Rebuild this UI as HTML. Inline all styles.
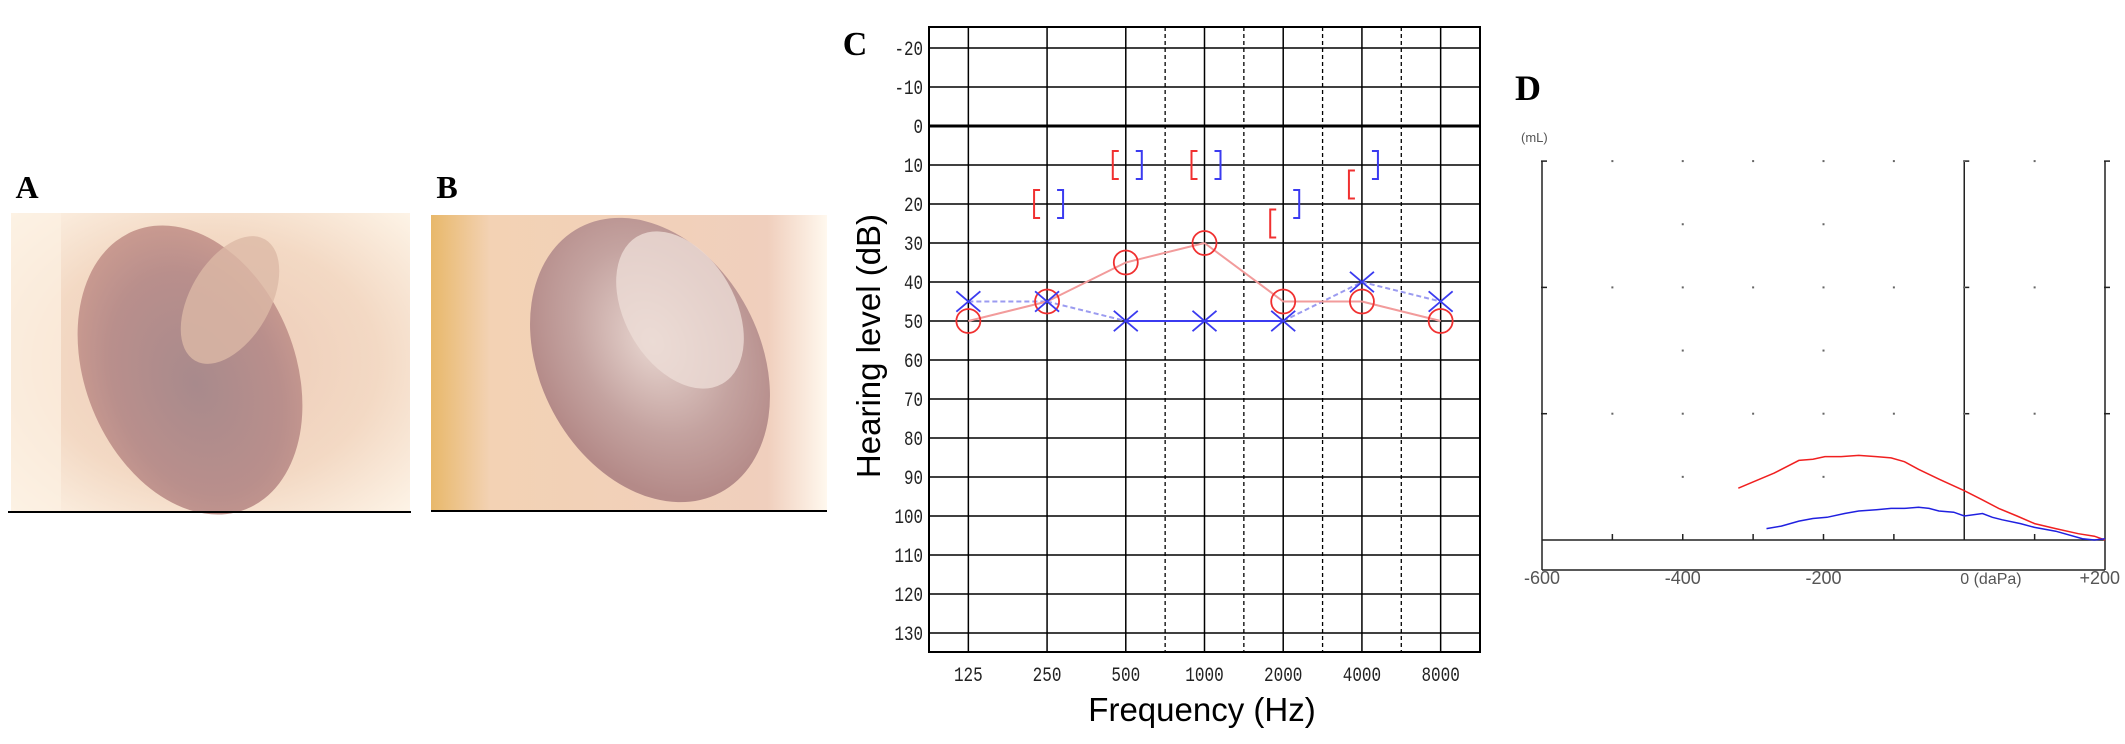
<!DOCTYPE html>
<html><head><meta charset="utf-8"><style>
html,body{margin:0;padding:0;background:#fff;}
svg{display:block;}
</style></head><body>
<svg id="fig" width="2125" height="744" viewBox="0 0 2125 744" xmlns="http://www.w3.org/2000/svg">
<defs>
<radialGradient id="bgA" cx="50%" cy="50%" r="70%"><stop offset="0" stop-color="#ecc9b6"/><stop offset="0.6" stop-color="#f3d9c4"/><stop offset="1" stop-color="#fdf3e6"/></radialGradient>
<radialGradient id="tmA" cx="50%" cy="55%" r="55%"><stop offset="0" stop-color="#a88a8c"/><stop offset="0.7" stop-color="#b98f8c"/><stop offset="1" stop-color="#c99a90"/></radialGradient>
<radialGradient id="tmB" cx="55%" cy="45%" r="55%"><stop offset="0" stop-color="#e8d6d0"/><stop offset="0.6" stop-color="#c4a3a0"/><stop offset="1" stop-color="#b48a88"/></radialGradient>
<linearGradient id="bgB" x1="0" y1="0" x2="1" y2="0"><stop offset="0" stop-color="#e8b86a"/><stop offset="0.15" stop-color="#f3d2b4"/><stop offset="0.85" stop-color="#f0cfbd"/><stop offset="1" stop-color="#fff8ee"/></linearGradient>
</defs>

<text x="27" y="198" font-family="Liberation Serif, serif" font-weight="bold" font-size="32" text-anchor="middle">A</text>
<g>
<rect x="11" y="213" width="399" height="299" fill="url(#bgA)"/>
<rect x="11" y="213" width="50" height="299" fill="#fcf1e2" opacity="0.7"/>
<ellipse cx="190" cy="370" rx="105" ry="150" transform="rotate(-22 190 370)" fill="url(#tmA)"/>
<ellipse cx="230" cy="300" rx="40" ry="70" transform="rotate(30 230 300)" fill="#dcb9a6" opacity="0.8"/>
<line x1="8" y1="512" x2="411" y2="512" stroke="#000" stroke-width="2"/>
</g>

<text x="447" y="198" font-family="Liberation Serif, serif" font-weight="bold" font-size="32" text-anchor="middle">B</text>
<g>
<rect x="431" y="215" width="396" height="295" fill="url(#bgB)"/>
<ellipse cx="650" cy="360" rx="110" ry="150" transform="rotate(-28 650 360)" fill="url(#tmB)"/>
<ellipse cx="680" cy="310" rx="55" ry="85" transform="rotate(-30 680 310)" fill="#ecdcd6" opacity="0.8"/>
<line x1="431" y1="511" x2="827" y2="511" stroke="#000" stroke-width="2"/>
</g>

<text x="855" y="55" font-family="Liberation Serif, serif" font-weight="bold" font-size="34" text-anchor="middle">C</text>
<g id="audiogram"></g>

<text x="1528" y="100" font-family="Liberation Serif, serif" font-weight="bold" font-size="36" text-anchor="middle">D</text>
<g id="tymp"></g>
</svg>
<script>
// ---------- Audiogram data ----------
const freqLabels = ["125","250","500","1000","2000","4000","8000"];
const dbTicks = [-20,-10,0,10,20,30,40,50,60,70,80,90,100,110,120,130];
const rightAC = [50,45,35,30,45,45,50];
const leftAC = [45,45,50,50,50,40,45];
const rightBCFreqIdx = [1,2,3,4,5];
const rightBC = [20,10,10,25,15];
const leftBCFreqIdx = [1,2,3,4,5];
const leftBC = [20,10,10,20,10];

// ---------- Tympanogram data ----------
const tympPressureTicks = [-600,-400,-200,0,200];
const tympPressureTickLabels = ["-600","-400","-200","0  (daPa)","+200"];
const rightTympP = [-321,-300,-270,-235,-215,-198,-175,-150,-125,-104,-85,-65,-35,0,25,49,75,100,130,162,185,200];
const rightTympV = [0.41,0.46,0.53,0.63,0.64,0.66,0.66,0.67,0.66,0.65,0.62,0.56,0.48,0.39,0.32,0.25,0.19,0.13,0.09,0.05,0.03,0.0];
const leftTympP = [-281,-260,-235,-215,-195,-170,-150,-125,-104,-85,-65,-50,-36,-15,0,26,40,54,80,100,130,168,185,200];
const leftTympV = [0.09,0.11,0.15,0.17,0.18,0.21,0.23,0.24,0.25,0.25,0.26,0.25,0.23,0.22,0.19,0.21,0.18,0.16,0.13,0.1,0.07,0.01,0.0,0.01];

const NS="http://www.w3.org/2000/svg";
function mk(parent,tag,attrs){const e=document.createElementNS(NS,tag);for(const k in attrs)e.setAttribute(k,attrs[k]);parent.appendChild(e);return e;}

const A={left:929,right:1480,top:27,bottom:652};
const colW=(A.right-A.left)/freqLabels.length;
function fx(i){return A.left+colW*(i+0.5);}
function dy(v){return 126+(v)*3.9;}
const ag=document.getElementById('audiogram');
dbTicks.forEach(function(v){
  const l=mk(ag,'line',{x1:A.left,x2:A.right,y1:dy(v),y2:dy(v),stroke:'#000','stroke-width':v===0?3:1.5});
  
  
  const s=String(v);
  const t=mk(ag,'text',{x:923,y:dy(v)+7,'text-anchor':'end','font-family':'Liberation Mono, monospace','font-size':20,fill:'#222',textLength:s.length*9.5,lengthAdjust:'spacingAndGlyphs'});
  t.textContent=s;
  
  
});
freqLabels.forEach(function(f,i){
  const l=mk(ag,'line',{x1:fx(i),x2:fx(i),y1:A.top,y2:A.bottom,stroke:'#000','stroke-width':1.5});
  
  
  const t=mk(ag,'text',{x:fx(i),y:681,'text-anchor':'middle','font-family':'Liberation Mono, monospace','font-size':20,fill:'#222',textLength:f.length*9.6,lengthAdjust:'spacingAndGlyphs'});
  t.textContent=f;
  
  
  if(i>=2&&i<=5){
    const d=mk(ag,'line',{x1:A.left+colW*(i+1),x2:A.left+colW*(i+1),y1:A.top,y2:A.bottom,stroke:'#000','stroke-width':1.3,'stroke-dasharray':'4,3'});
    
    
  }
});
const frame=mk(ag,'rect',{x:A.left,y:A.top,width:A.right-A.left,height:A.bottom-A.top,fill:'none',stroke:'#000','stroke-width':2});


const yt=mk(ag,'text',{x:0,y:0,transform:'translate(880,346) rotate(-90)','text-anchor':'middle','font-family':'Liberation Sans, sans-serif','font-size':33});
yt.textContent='Hearing level (dB)';


const xt=mk(ag,'text',{x:1202,y:721,'text-anchor':'middle','font-family':'Liberation Sans, sans-serif','font-size':33});
xt.textContent='Frequency (Hz)';



for(let i=0;i<leftAC.length-1;i++){
  const solid=(i>=2&&i<4);
  const l=mk(ag,'line',{x1:fx(i),y1:dy(leftAC[i]),x2:fx(i+1),y2:dy(leftAC[i+1]),stroke:solid?'#3b3bf0':'#9b9bf0','stroke-width':2,'stroke-dasharray':solid?'none':'5,3'});
  
  
}
for(let i=0;i<rightAC.length-1;i++){
  const l=mk(ag,'line',{x1:fx(i),y1:dy(rightAC[i]),x2:fx(i+1),y2:dy(rightAC[i+1]),stroke:'#f29b9b','stroke-width':2});
  
  
}
rightAC.forEach(function(v,i){
  const c=mk(ag,'circle',{cx:fx(i),cy:dy(v),r:12,fill:'none',stroke:'#f03030','stroke-width':1.8});
  
  
});
leftAC.forEach(function(v,i){
  const x=fx(i),y=dy(v),s=12;
  const p=mk(ag,'path',{d:'M'+(x-s)+' '+(y-s*0.85)+'L'+(x+s)+' '+(y+s*0.85)+'M'+(x-s)+' '+(y+s*0.85)+'L'+(x+s)+' '+(y-s*0.85),stroke:'#3b3bf0','stroke-width':1.8,fill:'none'});
  
  
});
rightBC.forEach(function(v,k){
  const x=fx(rightBCFreqIdx[k])-13,y=dy(v);
  const p=mk(ag,'path',{d:'M'+(x+6)+' '+(y-14)+'H'+x+'V'+(y+14)+'H'+(x+6),stroke:'#f03030','stroke-width':2,fill:'none'});
  
  
});
leftBC.forEach(function(v,k){
  const x=fx(leftBCFreqIdx[k])+16,y=dy(v);
  const p=mk(ag,'path',{d:'M'+(x-6)+' '+(y-14)+'H'+x+'V'+(y+14)+'H'+(x-6),stroke:'#3b3bf0','stroke-width':2,fill:'none'});
  
  
});

// Tympanogram
const T={left:1542,right:2105,top:161,base:540,boxBottom:570};
function px(p){return T.left+(p+600)/800*(T.right-T.left);}
function vy(v){return T.base-v*126.3;}
const tg=document.getElementById('tymp');
[[T.left,T.top,T.left,T.boxBottom],[T.right,T.top,T.right,T.boxBottom],[px(0),T.top,px(0),T.base],[T.left,T.base,T.right,T.base],[T.left,T.boxBottom,T.right,T.boxBottom]].forEach(function(a){
  const l=mk(tg,'line',{x1:a[0],y1:a[1],x2:a[2],y2:a[3],stroke:'#222','stroke-width':1.5});
  
  
});
[1,2,3].forEach(function(v){
  [T.left,px(0),T.right].forEach(function(x){
    const l=mk(tg,'line',{x1:x-1,x2:x+5,y1:vy(v),y2:vy(v),stroke:'#222','stroke-width':1.5});
    
    
  });
});
for(let p=-500;p<200;p+=100){
  for(let v=1;v<=3;v++){
    const d=mk(tg,'rect',{x:px(p)-1,y:vy(v)-1,width:2,height:2,fill:'#666'});
    
    
  }
  if(p!==0){
    const l=mk(tg,'line',{x1:px(p),x2:px(p),y1:T.base-6,y2:T.base,stroke:'#222','stroke-width':1.5});
    
    
  }
}
[-400,-200].forEach(function(p){[0.5,1.5,2.5].forEach(function(v){
  const d=mk(tg,'rect',{x:px(p)-1,y:vy(v)-1,width:2,height:2,fill:'#666'});
  
  
});});
tympPressureTicks.forEach(function(p,i){
  const last=i===tympPressureTicks.length-1, zero=p===0;
  const t=mk(tg,'text',{x:zero?px(p)-4:(last?px(p)+15:px(p)),y:584,'text-anchor':zero?'start':(last?'end':'middle'),'font-family':'Liberation Sans, sans-serif','font-size':zero?16:18,fill:'#555'});
  t.textContent=tympPressureTickLabels[i];
  
  
});
const ml=mk(tg,'text',{x:1521,y:142,'font-family':'Liberation Sans, sans-serif','font-size':13,fill:'#555'});
ml.textContent='(mL)';


function poly(P,V){return P.map(function(p,i){return px(p).toFixed(1)+','+vy(V[i]).toFixed(1);}).join(' ');}
const rl=mk(tg,'polyline',{points:poly(rightTympP,rightTympV),fill:'none',stroke:'#f02020','stroke-width':1.5});


const bl=mk(tg,'polyline',{points:poly(leftTympP,leftTympV),fill:'none',stroke:'#2020e0','stroke-width':1.5});


</script>
</body></html>
